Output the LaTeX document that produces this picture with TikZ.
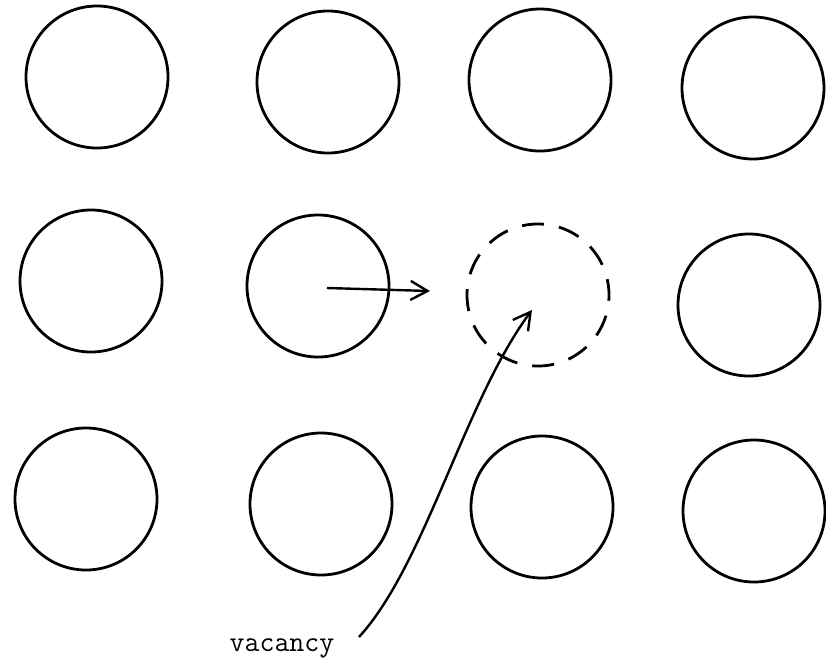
\documentclass[tikz,border=0pt]{standalone}
\usetikzlibrary{arrows.meta}
\begin{document}
\begin{tikzpicture}[x=1pt,y=-1pt,
  atom/.style={circle,draw,line width=2.8pt,minimum size=142pt,inner sep=0pt},
  hole/.style={atom,dash pattern=on 22pt off 15.2pt,dash phase=6pt},
  move/.style={line width=2.4pt,-{Straight Barb[length=17pt,width=19pt,line width=2.4pt]}},
  lbl/.style={font=\ttfamily\fontsize{29}{30}\selectfont,inner sep=0pt}]
\useasboundingbox (0,0) rectangle (826,665);
% top row
\node[atom] (a11) at (97,77) {};
\node[atom] (a12) at (328,82) {};
\node[atom] (a13) at (540,80) {};
\node[atom] (a14) at (753,88) {};
% middle row, with the empty site
\node[atom] (a21) at (91,281) {};
\node[atom] (a22) at (318,286) {};
\node[hole] (v)   at (538,295) {};
\node[atom] (a24) at (749,305) {};
% bottom row
\node[atom] (a31) at (86,499) {};
\node[atom] (a32) at (321,504) {};
\node[atom] (a33) at (542,507) {};
\node[atom] (a34) at (754,511) {};
% label
\node[lbl,anchor=base] (txt) at (282,651) {vacancy};
\coordinate (hop) at (430,291);
\coordinate (tip) at (532,310);
\coordinate (tail) at (359,637);
% jump of the neighbour into the empty site
\draw[move] (a22.center) ++(9,2) -- (hop);
% pointer from the label
\draw[move] (tail) .. controls (425,565) and (465,400) .. (tip);
\end{tikzpicture}
\end{document}
